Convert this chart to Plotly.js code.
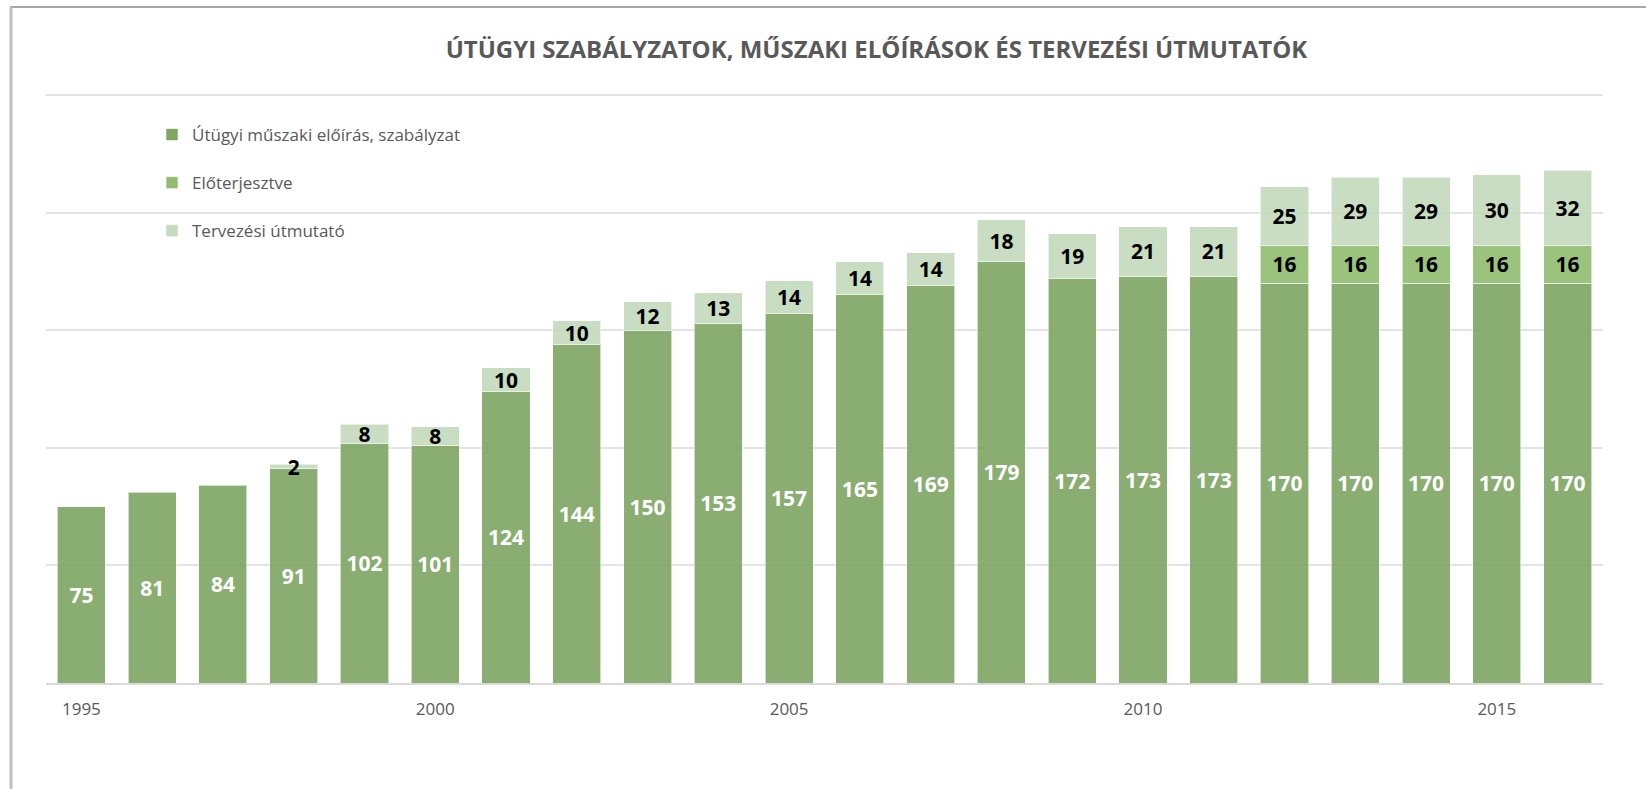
<!DOCTYPE html>
<html>
<head>
<meta charset="utf-8">
<script src="https://cdn.plot.ly/plotly-3.0.1.min.js"></script>
<style>
  html, body { margin: 0; padding: 0; background: #ffffff; }
  #chart { width: 1646px; height: 789px; }
</style>
</head>
<body>
<div id="chart"></div>
<script>
// ---- data ----
const years = [1995, 1996, 1997, 1998, 1999, 2000, 2001, 2002, 2003, 2004, 2005,
               2006, 2007, 2008, 2009, 2010, 2011, 2012, 2013, 2014, 2015, 2016];
const szabalyzat = [75, 81, 84, 91, 102, 101, 124, 144, 150, 153, 157,
                    165, 169, 179, 172, 173, 173, 170, 170, 170, 170, 170];
const eloterjesztve = [null, null, null, null, null, null, null, null, null, null, null,
                       null, null, null, null, null, null, 16, 16, 16, 16, 16];
const utmutato = [null, null, null, 2, 8, 8, 10, 10, 12, 13, 14,
                  14, 14, 18, 19, 21, 21, 25, 29, 29, 30, 32];
const seriesNames = ["Útügyi műszaki előírás, szabályzat", "Előterjesztve", "Tervezési útmutató"];
const xTickVals = [1995, 2000, 2005, 2010, 2015];
const titleText = "ÚTÜGYI SZABÁLYZATOK, MŰSZAKI ELŐÍRÁSOK ÉS TERVEZÉSI ÚTMUTATÓK";

// ---- styling ----
const FONT = "Open Sans, Liberation Sans, sans-serif";
const W = 1646, H = 789;
const M = { l: 46, r: 43, t: 91, b: 106 };
const plotW = W - M.l - M.r, plotH = H - M.t - M.b;
const pxPerUnit = 2.352;
const yMax = plotH / pxPerUnit;
const px2x = p => (p - M.l) / plotW;
const py2y = p => (H - M.b - p) / plotH;

function barTrace(name, values, color, textColor, group) {
  return {
    type: "bar",
    name: name,
    x: years,
    y: values,
    legendgroup: group,
    marker: { color: color, opacity: 0.9, line: { color: "rgba(255,255,255,0.6)", width: 1 } },
    texttemplate: "%{y}",
    textposition: "inside",
    insidetextanchor: "middle",
    textangle: 0,
    constraintext: "none",
    textfont: { family: FONT, size: 21, color: textColor, weight: "bold" },
    hoverinfo: "x+y+name"
  };
}

const data = [
  barTrace(seriesNames[0], szabalyzat, "#7ea663", "#ffffff", "g1"),
  barTrace(seriesNames[1], eloterjesztve, "#92bd70", "#000000", "g2"),
  barTrace(seriesNames[2], utmutato, "#c4dabd", "#000000", "g3")
];

const layout = {
  width: W, height: H,
  margin: M,
  paper_bgcolor: "#ffffff",
  plot_bgcolor: "#ffffff",
  barmode: "stack",
  bargap: 0.32,
  showlegend: true,
  title: {
    text: "<b>" + titleText + "</b>",
    font: { family: FONT, size: 24, color: "#595959" },
    x: 0.5325, xanchor: "center", xref: "container",
    y: 1 - 50 / H, yanchor: "middle", yref: "container"
  },
  legend: {
    x: px2x(152), xanchor: "left",
    y: py2y(117), yanchor: "top",
    orientation: "v",
    traceorder: "grouped",
    tracegroupgap: 23,
    bgcolor: "rgba(0,0,0,0)",
    font: { family: FONT, size: 17, color: "#595959" }
  },
  xaxis: {
    type: "linear",
    range: [1994.5, 2016.5],
    tickvals: xTickVals,
    ticktext: xTickVals.map(String),
    tickfont: { family: FONT, size: 17, color: "#595959" },
    ticks: "",
    ticklabelstandoff: 10,
    showgrid: false,
    zeroline: false,
    showline: true,
    linecolor: "#d9d9d9",
    linewidth: 2,
    fixedrange: true
  },
  yaxis: {
    range: [0, yMax],
    dtick: 50,
    showticklabels: false,
    showgrid: true,
    gridcolor: "#e3e3e3",
    gridwidth: 2,
    zeroline: false,
    ticks: "",
    fixedrange: true
  },
  shapes: [
    // slide frame (decoration)
    { type: "line", xref: "paper", yref: "paper", x0: px2x(10), x1: px2x(1646), y0: py2y(7), y1: py2y(7),
      line: { color: "#a6a6a6", width: 2 } },
    { type: "line", xref: "paper", yref: "paper", x0: px2x(11), x1: px2x(11), y0: py2y(7), y1: py2y(789),
      line: { color: "#c0c0c0", width: 3 } }
  ]
};

Plotly.newPlot("chart", data, layout, { displayModeBar: false, staticPlot: true });
</script>
</body>
</html>
